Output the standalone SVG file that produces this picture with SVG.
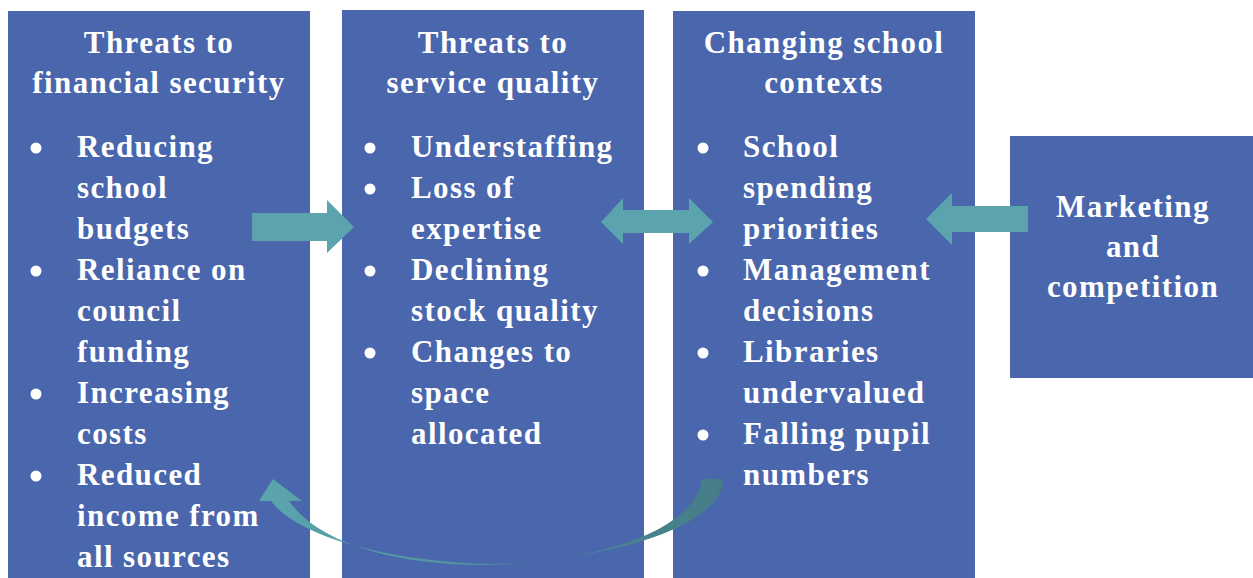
<svg xmlns="http://www.w3.org/2000/svg" width="1253" height="578" viewBox="0 0 1253 578">
  <defs>
    <style>
      .box { fill: #4A66AC; }
      .t { font-family: "Liberation Serif", "Times New Roman", serif; font-weight: bold; font-size: 31px; fill: #FFFFFF; letter-spacing: 1.4px; }
      .c { text-anchor: middle; }
      .dot { fill: #FFFFFF; }
      .arrow { fill: #5BA3AD; }
    </style>
    <linearGradient id="curveGrad" x1="259" y1="0" x2="723" y2="0" gradientUnits="userSpaceOnUse">
      <stop offset="0" stop-color="#5BA5AE"/>
      <stop offset="1" stop-color="#457C87"/>
    </linearGradient>
  </defs>

  <rect width="1253" height="578" fill="#FFFFFF"/>

  <!-- Column 1 -->
  <g id="financial-security">
    <rect class="box" x="8" y="11" width="302" height="567"/>
    <text class="t c" x="159" y="53">Threats to</text>
    <text class="t c" x="159" y="93">financial security</text>
    <circle class="dot" cx="36" cy="148" r="5.5"/>
    <circle class="dot" cx="36" cy="271" r="5.5"/>
    <circle class="dot" cx="36" cy="394" r="5.5"/>
    <circle class="dot" cx="36" cy="476" r="5.5"/>
    <text class="t" x="77" y="157">Reducing</text>
    <text class="t" x="77" y="198">school</text>
    <text class="t" x="77" y="239">budgets</text>
    <text class="t" x="77" y="280">Reliance on</text>
    <text class="t" x="77" y="321">council</text>
    <text class="t" x="77" y="362">funding</text>
    <text class="t" x="77" y="403">Increasing</text>
    <text class="t" x="77" y="444">costs</text>
    <text class="t" x="77" y="485">Reduced</text>
    <text class="t" x="77" y="526">income from</text>
    <text class="t" x="77" y="567">all sources</text>
  </g>

  <!-- Column 2 -->
  <g id="service-quality">
    <rect class="box" x="342" y="10" width="302" height="568"/>
    <text class="t c" x="493" y="53">Threats to</text>
    <text class="t c" x="493" y="93">service quality</text>
    <circle class="dot" cx="370" cy="148" r="5.5"/>
    <circle class="dot" cx="370" cy="189" r="5.5"/>
    <circle class="dot" cx="370" cy="271" r="5.5"/>
    <circle class="dot" cx="370" cy="353" r="5.5"/>
    <text class="t" x="411" y="157">Understaffing</text>
    <text class="t" x="411" y="198">Loss of</text>
    <text class="t" x="411" y="239">expertise</text>
    <text class="t" x="411" y="280">Declining</text>
    <text class="t" x="411" y="321">stock quality</text>
    <text class="t" x="411" y="362">Changes to</text>
    <text class="t" x="411" y="403">space</text>
    <text class="t" x="411" y="444">allocated</text>
  </g>

  <!-- Column 3 -->
  <g id="school-contexts">
    <rect class="box" x="673" y="11" width="302" height="567"/>
    <text class="t c" x="824" y="53">Changing school</text>
    <text class="t c" x="824" y="93">contexts</text>
    <circle class="dot" cx="703" cy="148" r="5.5"/>
    <circle class="dot" cx="703" cy="271" r="5.5"/>
    <circle class="dot" cx="703" cy="353" r="5.5"/>
    <circle class="dot" cx="703" cy="435" r="5.5"/>
    <text class="t" x="743" y="157">School</text>
    <text class="t" x="743" y="198">spending</text>
    <text class="t" x="743" y="239">priorities</text>
    <text class="t" x="743" y="280">Management</text>
    <text class="t" x="743" y="321">decisions</text>
    <text class="t" x="743" y="362">Libraries</text>
    <text class="t" x="743" y="403">undervalued</text>
    <text class="t" x="743" y="444">Falling pupil</text>
    <text class="t" x="743" y="485">numbers</text>
  </g>

  <!-- Side box -->
  <g id="marketing">
    <rect class="box" x="1010" y="136" width="243" height="242"/>
    <text class="t c" x="1133" y="217">Marketing</text>
    <text class="t c" x="1133" y="257">and</text>
    <text class="t c" x="1133" y="297">competition</text>
  </g>

  <!-- Connectors -->
  <g id="connectors">
    <path class="arrow" d="M252 213 H327 V200 L354 227 L327 253 V241 H252 Z"/>
    <path class="arrow" d="M601 222 L623 198 V210 H689 V198 L713 222 L689 244 V233 H623 V244 Z"/>
    <path class="arrow" d="M926 219 L952 193 V206 H1028 V232 H952 V245 Z"/>
    <path fill="url(#curveGrad)" d="M723 479 C723 525 620 558 490 565 C400 566 320 545 289 501 L302 501 L273 479 L259 501 L271 501 C300 540 400 562 490 564 C600 562 695 530 702 479 Z"/>
  </g>
</svg>
